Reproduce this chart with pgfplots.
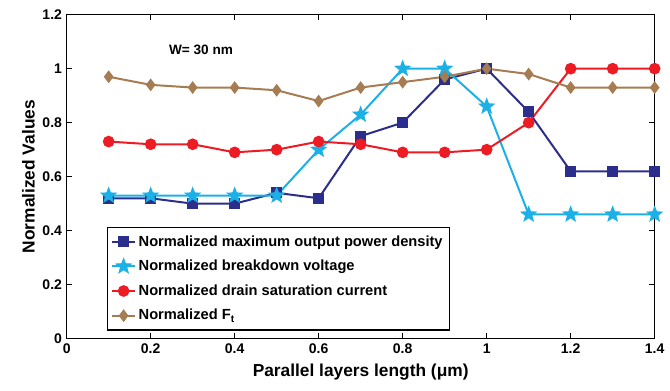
\documentclass[border=0pt]{standalone}
\usepackage{fontspec}
\setmainfont{Liberation Sans}
\usepackage{pgfplots}
\pgfplotsset{compat=1.18}

\definecolor{cpow}{RGB}{44,46,140}
\definecolor{cbv}{RGB}{27,177,231}
\definecolor{cid}{RGB}{237,28,36}
\definecolor{cft}{RGB}{166,124,82}

% filled five-pointed star
\pgfdeclareplotmark{fstar}{%
  \pgfpathmoveto{\pgfqpointpolar{90}{\pgfplotmarksize}}%
  \pgfpathlineto{\pgfqpointpolar{126}{0.42\pgfplotmarksize}}%
  \pgfpathlineto{\pgfqpointpolar{162}{\pgfplotmarksize}}%
  \pgfpathlineto{\pgfqpointpolar{198}{0.42\pgfplotmarksize}}%
  \pgfpathlineto{\pgfqpointpolar{234}{\pgfplotmarksize}}%
  \pgfpathlineto{\pgfqpointpolar{270}{0.42\pgfplotmarksize}}%
  \pgfpathlineto{\pgfqpointpolar{306}{\pgfplotmarksize}}%
  \pgfpathlineto{\pgfqpointpolar{342}{0.42\pgfplotmarksize}}%
  \pgfpathlineto{\pgfqpointpolar{18}{\pgfplotmarksize}}%
  \pgfpathlineto{\pgfqpointpolar{54}{0.42\pgfplotmarksize}}%
  \pgfpathclose
  \pgfusepathqfillstroke}

\begin{document}
\begin{tikzpicture}
\begin{axis}[
  scale only axis,
  width=441pt, height=243pt,
  xmin=0, xmax=1.4, ymin=0, ymax=1.2,
  xtick={0,0.2,...,1.4},
  ytick={0,0.2,...,1.2},
  xticklabels={0,0.2,0.4,0.6,0.8,1,1.2,1.4},
  yticklabels={0,0.2,0.4,0.6,0.8,1,1.2},
  tick align=inside,
  major tick length=4pt,
  axis line style={line width=0.9pt},
  tick style={line width=0.6pt, black},
  ticklabel style={font=\fontsize{10.5}{12}\selectfont\bfseries},
  /pgf/number format/assume math mode=true,
  xlabel={Parallel layers length (μm)},
  ylabel={Normalized Values},
  label style={font=\fontsize{13}{15}\selectfont\bfseries},
  xlabel style={yshift=-1pt},
  ylabel style={yshift=-1pt},
  legend style={at={(0.068,0.025)}, anchor=south west,
    font=\fontsize{11}{13}\selectfont\bfseries,
    draw=black, line width=0.9pt, row sep=5pt,
    inner xsep=3pt, inner ysep=4pt},
  legend cell align=left,
  every axis plot/.append style={line width=1.5pt},
]
\addplot[cpow, mark=square*, mark size=3.3pt] coordinates {
 (0.1,0.52) (0.2,0.52) (0.3,0.50) (0.4,0.50) (0.5,0.54) (0.6,0.52) (0.7,0.75)
 (0.8,0.80) (0.9,0.96) (1.0,1.00) (1.1,0.84) (1.2,0.62) (1.3,0.62) (1.4,0.62)};
\addlegendentry{Normalized maximum output power density}
\addplot[cbv, mark=fstar, mark size=6pt, mark options={line width=0.6pt}] coordinates {
 (0.1,0.53) (0.2,0.53) (0.3,0.53) (0.4,0.53) (0.5,0.53) (0.6,0.70) (0.7,0.83)
 (0.8,1.00) (0.9,1.00) (1.0,0.86) (1.1,0.46) (1.2,0.46) (1.3,0.46) (1.4,0.46)};
\addlegendentry{Normalized breakdown voltage}
\addplot[cid, mark=*, mark size=3.6pt] coordinates {
 (0.1,0.73) (0.2,0.72) (0.3,0.72) (0.4,0.69) (0.5,0.70) (0.6,0.73) (0.7,0.72)
 (0.8,0.69) (0.9,0.69) (1.0,0.70) (1.1,0.80) (1.2,1.00) (1.3,1.00) (1.4,1.00)};
\addlegendentry{Normalized drain saturation current}
\addplot[cft, mark=diamond*, mark size=3.6pt] coordinates {
 (0.1,0.97) (0.2,0.94) (0.3,0.93) (0.4,0.93) (0.5,0.92) (0.6,0.88) (0.7,0.93)
 (0.8,0.95) (0.9,0.97) (1.0,1.00) (1.1,0.98) (1.2,0.93) (1.3,0.93) (1.4,0.93)};
\addlegendentry{Normalized F\textsubscript{t}}
\node[font=\fontsize{10.2}{12}\selectfont\bfseries, anchor=center] at (axis cs:0.32,1.07) {W= 30 nm};
\end{axis}
\pgfresetboundingbox
\path[use as bounding box] ([shift={(-50pt,-39pt)}]current axis.south west)
  rectangle ([shift={(11.5pt,11pt)}]current axis.north east);
\end{tikzpicture}
\end{document}
